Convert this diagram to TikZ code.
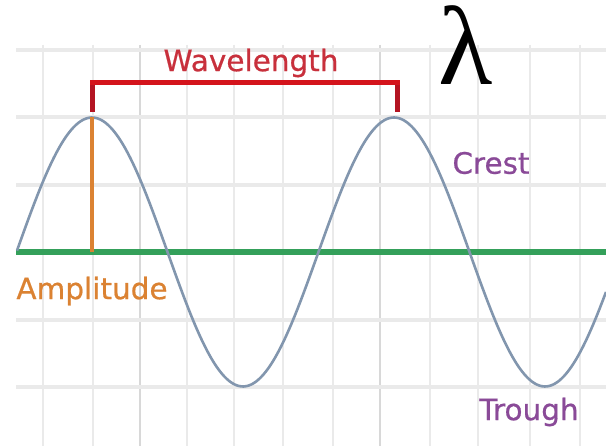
\documentclass[tikz,border=0pt]{standalone}
\usepackage{fontspec}
\setmainfont{DejaVu Sans}
\newfontfamily\lblfont{DejaVu Sans}[FakeBold=0.6]
\newfontfamily\lamfont{Liberation Serif}
\definecolor{gridc}{HTML}{EAEAEA}
\definecolor{gridd}{HTML}{D8D8D8}
\definecolor{wavec}{HTML}{8296AE}
\definecolor{axisc}{HTML}{34A05A}
\definecolor{ampc}{HTML}{DB8232}
\definecolor{brackc}{HTML}{D4141C}
\definecolor{brackd}{HTML}{B41422}
\definecolor{wltext}{HTML}{C8303C}
\definecolor{purp}{HTML}{8A4A98}
\begin{document}
\begin{tikzpicture}[x=1pt,y=-1pt,
  lbl/.style={inner sep=0pt,font=\lblfont\fontsize{29.5}{29.5}\selectfont},
  gridline/.style={draw=gridc,line width=2.5pt},
  gridmajor/.style={draw=gridd,line width=2.5pt}]
\useasboundingbox (0,0) rectangle (606,446);
\fill[white] (0,0) rectangle (606,446);
% grid
\foreach \gx in {43,93,187,234,283,333,430,478,530,580}
  \draw[gridline] (\gx,45) -- (\gx,446);
\foreach \gx in {140,380}
  \draw[gridmajor] (\gx,45) -- (\gx,446);
\foreach \gy in {50,117,185,320,387}
  \draw[draw=gridc,line width=4pt] (16,\gy) -- (606,\gy);
% key points
\coordinate (c1) at (92,117);
\coordinate (c2) at (395,117);
\coordinate (b1) at (92,112);
\coordinate (b2) at (397,112);
\coordinate (t1) at (92,83);
\coordinate (t2) at (397,83);
\coordinate (a0) at (92,252);
\coordinate (axl) at (16,252);
\coordinate (axr) at (606,252);
% axis
\draw[axisc,line width=5.5pt] (axl) -- (axr);
% wave
\draw[wavec,line width=2.6pt,line join=round] plot[domain=17:606,samples=240,smooth]
  (\x,{252-134.5*cos((\x-92)*1.192053)});
% amplitude
\draw[ampc,line width=4pt] (c1) -- (a0);
% wavelength bracket
\draw[brackd,line width=5pt] (b1) -- (t1);
\draw[brackd,line width=5pt] (b2) -- (t2);
\draw[brackc,line width=5pt,line cap=rect] (t1) -- (t2);
% labels
\node[lbl,text=wltext] (wl) at (251,63) {Wavelength};
\node[inner sep=0pt,anchor=base,font=\lamfont\fontsize{112}{112}\selectfont] (lam) at (466,85) {λ};
\node[lbl,text=purp] (crest) at (491,163) {Crest};
\node[lbl,text=purp] (trough) at (529,412) {Trough};
\node[lbl,text=ampc] (amp) at (92,291) {Amplitude};
\end{tikzpicture}
\end{document}
